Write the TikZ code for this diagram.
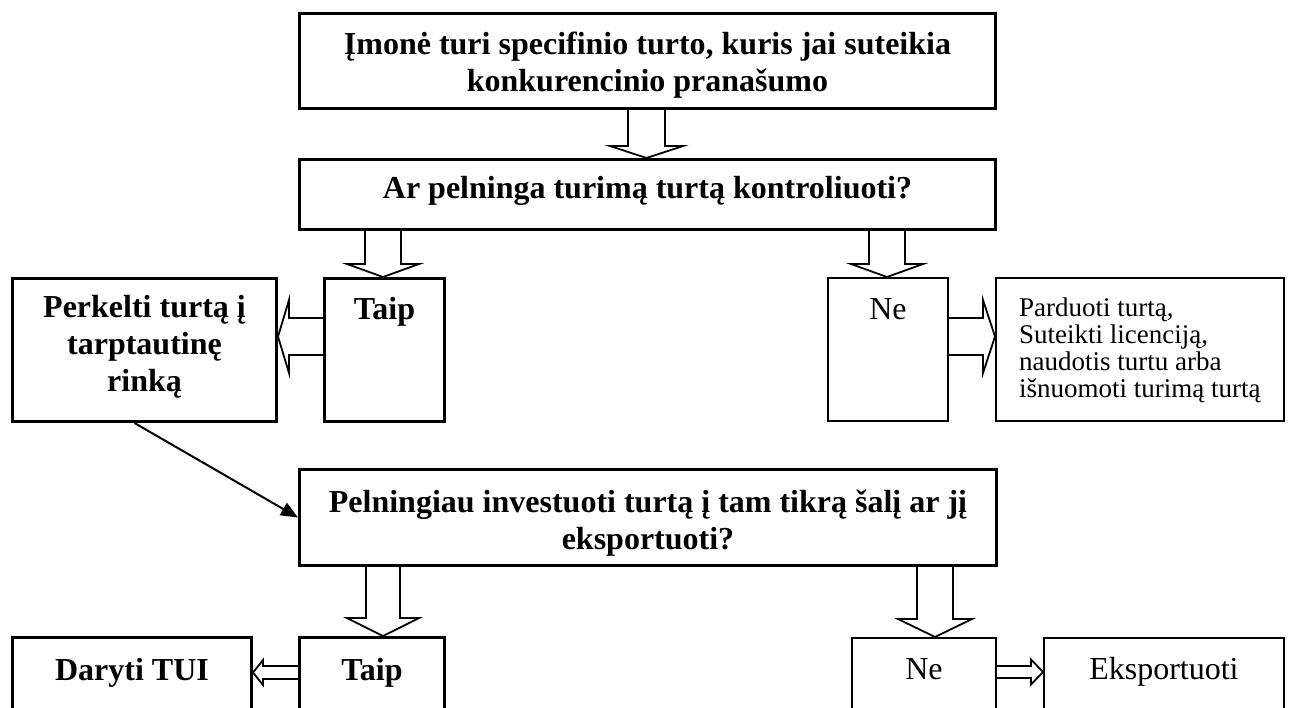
\documentclass[tikz,border=0pt]{standalone}
\usepackage{fontspec}
\setmainfont{Liberation Serif}
\usetikzlibrary{calc,arrows.meta}

% hollow block arrows between two node anchors
\newcommand{\blkdown}[6]{%
  \draw[blk] let \p1=(#1), \p2=(#2) in
    ({#3-#4},\y1) -- ({#3-#4},{\y2+#6}) -- ({#3-#5},{\y2+#6}) -- (#3,\y2)
    -- ({#3+#5},{\y2+#6}) -- ({#3+#4},{\y2+#6}) -- ({#3+#4},\y1);}
\newcommand{\blkside}[6]{%
  \draw[blk] let \p1=(#1), \p2=(#2) in
    (\x1,{#3+#4}) -- ({\x2+#6},{#3+#4}) -- ({\x2+#6},{#3+#5}) -- (\x2,#3)
    -- ({\x2+#6},{#3-#5}) -- ({\x2+#6},{#3-#4}) -- (\x1,{#3-#4});}

\begin{document}
\begin{tikzpicture}[x=1pt, y=1pt,
        box/.style={draw, anchor=north west, inner sep=0pt, align=center},
        strong/.style={box, line width=3pt, font=\fontsize{32}{37}\selectfont\bfseries},
        plain/.style={box, line width=1.8pt, font=\fontsize{32}{37}\selectfont},
        blk/.style={draw, line width=1.8pt, line join=miter}]
        \useasboundingbox (0,0) rectangle (1290,-707);
        \clip (0,0) rectangle (1290,-707);
        \node[strong, minimum width=696pt, text height=78pt, text depth=17pt] (imone) at (298,-12)
            {Įmonė turi specifinio turto, kuris jai suteikia\\konkurencinio pranašumo};
        \node[strong, minimum width=696pt, text height=39pt, text depth=31pt] (pelnas) at (298,-158)
            {Ar pelninga turimą turtą kontroliuoti?};
        \node[strong, minimum width=264pt, text height=113pt, text depth=30pt] (perkelti) at (11,-277)
            {Perkelti turtą į\\tarptautinę\\rinką};
        \node[strong, minimum width=120pt, text height=41pt, text depth=102pt] (taip) at (323,-277) {Taip};
        \node[plain, minimum width=120pt, text height=42pt, text depth=101pt] (ne) at (827,-277) {Ne};
        \node[plain, font=\fontsize{27}{27}\selectfont, align=left, minimum width=288pt,
            text height=120pt, text depth=23pt] (budai) at (995,-277)
            {Parduoti turtą,\\Suteikti licenciją,\\naudotis turtu arba\\išnuomoti turimą turtą};
        \node[strong, minimum width=697pt, text height=80pt, text depth=16pt] (pelningiau) at (298,-468)
            {Pelningiau investuoti turtą į tam tikrą šalį ar jį\\eksportuoti?};
        \node[strong, minimum width=239pt, text height=43pt, text depth=100pt] (daryti) at (11,-636) {Daryti TUI};
        \node[strong, minimum width=145pt, text height=43pt, text depth=100pt] (taip2) at (298,-636) {Taip};
        \node[plain, minimum width=144pt, text height=42pt, text depth=100pt] (ne2) at (851,-637) {Ne};
        \node[plain, minimum width=240pt, text height=42pt, text depth=100pt] (eksport) at (1043,-637) {Eksportuoti};
        \blkdown{imone.south}{pelnas.north}{646.5pt}{18.5pt}{36.5pt}{12pt}
        \blkdown{pelnas.south}{taip.north}{383pt}{18pt}{36pt}{13pt}
        \blkdown{pelnas.south}{ne.north}{887pt}{18pt}{36pt}{13pt}
        \blkdown{pelningiau.south}{taip2.north}{383pt}{17pt}{36pt}{18pt}
        \blkdown{pelningiau.south}{ne2.north}{935pt}{18pt}{37pt}{18pt}
        \blkside{taip.west}{perkelti.east}{-336.5pt}{18.5pt}{36.5pt}{11pt}
        \blkside{ne.east}{budai.west}{-336.5pt}{18.5pt}{36.5pt}{-12pt}
        \blkside{taip2.west}{daryti.east}{-672.5pt}{6.5pt}{12.5pt}{10pt}
        \blkside{ne2.east}{eksport.west}{-672pt}{6pt}{12.5pt}{-12pt}
        \draw[line width=2pt, -{Triangle[length=17pt,width=14pt]}] ([xshift=-10pt]perkelti.south) -- (pelningiau.west);
\end{tikzpicture}
\end{document}
